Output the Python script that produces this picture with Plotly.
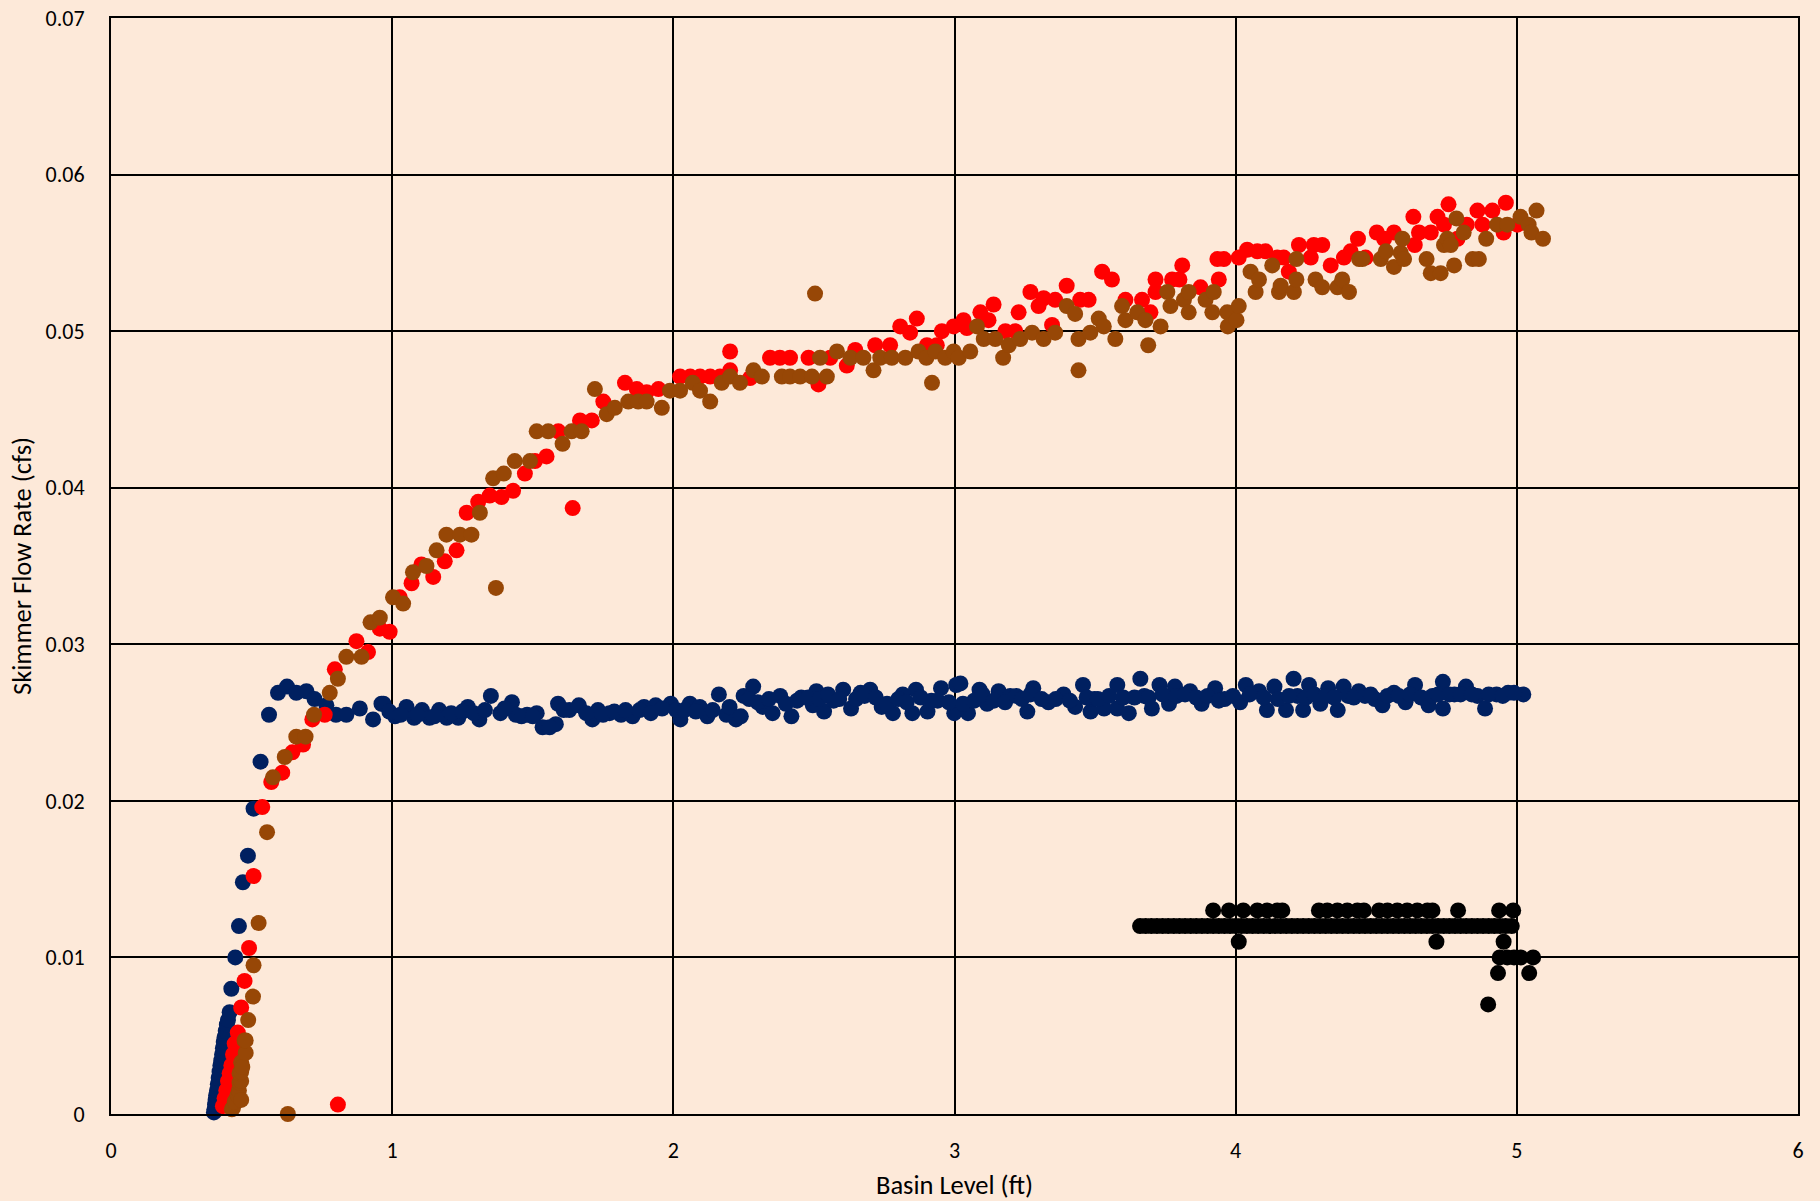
import plotly.graph_objects as go

# ---------------- data ----------------
navy_x = [0.366, 0.368, 0.370, 0.372, 0.374, 0.377, 0.380, 0.383, 0.386, 0.389, 0.392, 0.395,
          0.398, 0.401, 0.404, 0.408, 0.412, 0.416, 0.422, 0.428, 0.442, 0.455, 0.469, 0.487,
          0.507, 0.532, 0.562, 0.594, 0.626, 0.659, 0.695, 0.724, 0.766, 0.800, 0.837, 0.885,
          0.932, 0.962, 0.969, 1.010, 1.051, 1.078, 1.106, 1.133, 1.167, 1.194, 1.235, 1.269,
          1.310, 1.351, 1.385, 1.426, 1.440, 1.480, 1.514, 1.535, 1.582, 1.590, 1.630, 1.664,
          1.712, 1.732, 1.773, 1.814, 1.855, 1.896, 1.937, 1.991, 2.025, 2.059, 2.094, 2.121,
          2.162, 2.189, 2.223, 2.250, 2.284, 2.318, 2.353, 2.380, 2.420, 2.455, 2.496, 2.509,
          2.536, 2.570, 2.604, 2.632, 2.666, 2.700, 2.741, 2.781, 2.816, 2.850, 2.863, 2.904,
          2.918, 2.952, 2.999, 3.006, 3.021, 3.048, 3.089, 3.116, 3.157, 3.198, 3.259, 3.280,
          3.334, 3.388, 3.429, 3.457, 3.484, 3.497, 3.532, 3.579, 3.579, 3.620, 3.661, 3.675,
          3.702, 3.729, 3.763, 3.784, 3.838, 3.879, 3.927, 3.961, 4.016, 4.036, 4.083, 4.111,
          4.138, 4.179, 4.206, 4.220, 4.240, 4.261, 4.301, 4.329, 4.363, 4.384, 4.438, 4.495,
          4.522, 4.563, 4.604, 4.638, 4.686, 4.737, 4.737, 4.778, 4.819, 4.860, 4.887, 4.928,
          4.969, 5.023,
          0.990, 1.030, 1.090, 1.150, 1.210, 1.250, 1.290, 1.330, 1.400, 1.460, 1.500, 1.560,
          1.610, 1.690, 1.750, 1.790, 1.830, 1.880, 1.920, 1.960, 2.010, 2.040, 2.080, 2.140,
          2.200, 2.240, 2.270, 2.300, 2.340, 2.400, 2.440, 2.480, 2.520, 2.550, 2.590, 2.650,
          2.680, 2.720, 2.760, 2.800, 2.830, 2.880, 2.940, 2.980, 3.030, 3.070, 3.100, 3.140,
          3.180, 3.220, 3.240, 3.270, 3.310, 3.360, 3.410, 3.470, 3.510, 3.550, 3.600, 3.640,
          3.690, 3.740, 3.790, 3.820, 3.860, 3.900, 3.940, 3.990, 4.050, 4.100, 4.150, 4.190,
          4.250, 4.280, 4.320, 4.350, 4.400, 4.420, 4.460, 4.480, 4.540, 4.580, 4.620, 4.660,
          4.700, 4.720, 4.760, 4.800, 4.840, 4.900, 4.950, 4.990]
navy_y = [0.0001, 0.0003, 0.0006, 0.0009, 0.0012, 0.0015, 0.0019, 0.0023, 0.0027, 0.0031, 0.0034, 0.0038,
          0.0042, 0.0046, 0.0049, 0.0053, 0.0057, 0.0060, 0.0065, 0.0080, 0.0100, 0.0120, 0.0148, 0.0165,
          0.0195, 0.0225, 0.0255, 0.0269, 0.0273, 0.0269, 0.0270, 0.0265, 0.0261, 0.0255, 0.0255, 0.0259,
          0.0252, 0.0262, 0.0262, 0.0254, 0.0260, 0.0253, 0.0258, 0.0253, 0.0258, 0.0253, 0.0253, 0.0260,
          0.0252, 0.0267, 0.0256, 0.0263, 0.0255, 0.0255, 0.0256, 0.0247, 0.0249, 0.0262, 0.0258, 0.0261,
          0.0252, 0.0258, 0.0256, 0.0255, 0.0254, 0.0260, 0.0261, 0.0262, 0.0252, 0.0262, 0.0260, 0.0254,
          0.0268, 0.0255, 0.0252, 0.0267, 0.0273, 0.0260, 0.0256, 0.0267, 0.0254, 0.0266, 0.0261, 0.0270,
          0.0257, 0.0264, 0.0271, 0.0259, 0.0269, 0.0271, 0.0260, 0.0256, 0.0268, 0.0256, 0.0271, 0.0257,
          0.0264, 0.0272, 0.0256, 0.0274, 0.0275, 0.0256, 0.0271, 0.0262, 0.0270, 0.0267, 0.0257, 0.0272,
          0.0263, 0.0268, 0.0260, 0.0274, 0.0257, 0.0265, 0.0259, 0.0274, 0.0259, 0.0256, 0.0278, 0.0267,
          0.0259, 0.0274, 0.0262, 0.0273, 0.0270, 0.0262, 0.0272, 0.0265, 0.0263, 0.0274, 0.0270, 0.0258,
          0.0273, 0.0258, 0.0278, 0.0267, 0.0258, 0.0274, 0.0262, 0.0272, 0.0258, 0.0273, 0.0270, 0.0265,
          0.0261, 0.0269, 0.0263, 0.0274, 0.0261, 0.0276, 0.0259, 0.0268, 0.0273, 0.0267, 0.0259, 0.0268,
          0.0269, 0.0268,
          0.0257, 0.0255, 0.0255, 0.0254, 0.0256, 0.0257, 0.0256, 0.0258, 0.0259, 0.0254, 0.0254, 0.0247,
          0.0258, 0.0256, 0.0255, 0.0257, 0.0258, 0.0258, 0.0256, 0.0259, 0.0258, 0.0258, 0.0257, 0.0258,
          0.0260, 0.0254, 0.0265, 0.0263, 0.0265, 0.0262, 0.0264, 0.0266, 0.0265, 0.0268, 0.0265, 0.0265,
          0.0267, 0.0266, 0.0262, 0.0265, 0.0263, 0.0266, 0.0264, 0.0263, 0.0262, 0.0264, 0.0268, 0.0264,
          0.0263, 0.0267, 0.0265, 0.0268, 0.0265, 0.0265, 0.0264, 0.0266, 0.0265, 0.0267, 0.0266, 0.0266,
          0.0266, 0.0268, 0.0267, 0.0268, 0.0266, 0.0267, 0.0264, 0.0267, 0.0268, 0.0266, 0.0265, 0.0267,
          0.0266, 0.0268, 0.0267, 0.0266, 0.0267, 0.0266, 0.0267, 0.0268, 0.0267, 0.0267, 0.0268, 0.0266,
          0.0267, 0.0268, 0.0268, 0.0268, 0.0268, 0.0268, 0.0267, 0.0269]

red_x = [0.398, 0.404, 0.410, 0.416, 0.422, 0.428, 0.434, 0.440, 0.451, 0.463, 0.475, 0.491,
         0.507, 0.538, 0.570, 0.609, 0.645, 0.683, 0.716, 0.760, 0.796, 0.807, 0.873, 0.914,
         0.956, 0.991, 1.027, 1.069, 1.104, 1.146, 1.187, 1.229, 1.265, 1.306, 1.347, 1.389,
         1.430, 1.472, 1.508, 1.549, 1.591, 1.642, 1.668, 1.710, 1.751, 1.828, 1.870, 1.905,
         1.947, 2.024, 2.060, 2.095, 2.131, 2.166, 2.202, 2.202, 2.273, 2.344, 2.379, 2.415,
         2.481, 2.516, 2.558, 2.617, 2.647, 2.718, 2.771, 2.807, 2.842, 2.866, 2.902, 2.937,
         2.955, 2.997, 3.032, 3.044, 3.092, 3.121, 3.139, 3.181, 3.216, 3.228, 3.270, 3.299,
         3.317, 3.347, 3.358, 3.399, 3.447, 3.477, 3.525, 3.560, 3.608, 3.667, 3.697, 3.715,
         3.715, 3.774, 3.800, 3.810, 3.875, 3.935, 3.940, 3.958, 4.011, 4.041, 4.077, 4.106,
         4.148, 4.171, 4.189, 4.225, 4.267, 4.278, 4.308, 4.338, 4.385, 4.409, 4.435, 4.462,
         4.502, 4.528, 4.563, 4.632, 4.637, 4.652, 4.694, 4.718, 4.741, 4.757, 4.789, 4.822,
         4.860, 4.878, 4.913, 4.953, 4.961, 5.002]
red_y = [0.0005, 0.0010, 0.0015, 0.0021, 0.0026, 0.0031, 0.0038, 0.0045, 0.0052, 0.0068, 0.0085, 0.0106,
         0.0152, 0.0196, 0.0212, 0.0218, 0.0231, 0.0236, 0.0252, 0.0255, 0.0284, 0.0006, 0.0302, 0.0295,
         0.0310, 0.0308, 0.0330, 0.0339, 0.0351, 0.0343, 0.0353, 0.0360, 0.0384, 0.0391, 0.0395, 0.0394,
         0.0398, 0.0409, 0.0417, 0.0420, 0.0436, 0.0387, 0.0443, 0.0443, 0.0455, 0.0467, 0.0463, 0.0461,
         0.0463, 0.0471, 0.0471, 0.0471, 0.0471, 0.0471, 0.0487, 0.0475, 0.0470, 0.0483, 0.0483, 0.0483,
         0.0483, 0.0466, 0.0483, 0.0478, 0.0488, 0.0491, 0.0491, 0.0503, 0.0499, 0.0508, 0.0491, 0.0491,
         0.0500, 0.0503, 0.0507, 0.0502, 0.0512, 0.0507, 0.0517, 0.0500, 0.0500, 0.0512, 0.0525, 0.0516,
         0.0521, 0.0504, 0.0520, 0.0529, 0.0520, 0.0520, 0.0538, 0.0533, 0.0520, 0.0520, 0.0512, 0.0533,
         0.0525, 0.0533, 0.0533, 0.0542, 0.0528, 0.0546, 0.0533, 0.0546, 0.0547, 0.0552, 0.0551, 0.0551,
         0.0547, 0.0547, 0.0538, 0.0555, 0.0547, 0.0555, 0.0555, 0.0542, 0.0547, 0.0551, 0.0559, 0.0547,
         0.0563, 0.0559, 0.0563, 0.0573, 0.0555, 0.0563, 0.0563, 0.0573, 0.0568, 0.0581, 0.0559, 0.0568,
         0.0577, 0.0568, 0.0577, 0.0563, 0.0582, 0.0568]

brown_x = [0.430, 0.434, 0.440, 0.450, 0.455, 0.463, 0.457, 0.463, 0.457, 0.463, 0.463, 0.467,
           0.479, 0.475, 0.479, 0.488, 0.505, 0.507, 0.525, 0.555, 0.576, 0.618, 0.629, 0.659,
           0.692, 0.722, 0.778, 0.807, 0.837, 0.891, 0.923, 0.956, 1.003, 1.039, 1.074, 1.122,
           1.158, 1.193, 1.241, 1.282, 1.312, 1.359, 1.369, 1.397, 1.436, 1.490, 1.514, 1.555,
           1.606, 1.638, 1.674, 1.721, 1.763, 1.792, 1.840, 1.875, 1.905, 1.959, 1.988, 2.024,
           2.069, 2.095, 2.131, 2.172, 2.202, 2.237, 2.285, 2.315, 2.386, 2.415, 2.451, 2.493,
           2.504, 2.522, 2.546, 2.582, 2.630, 2.676, 2.712, 2.736, 2.777, 2.825, 2.872, 2.900,
           2.920, 2.932, 2.967, 2.997, 3.015, 3.056, 3.080, 3.104, 3.145, 3.173, 3.193, 3.234,
           3.276, 3.317, 3.358, 3.399, 3.429, 3.441, 3.441, 3.483, 3.513, 3.531, 3.572, 3.596,
           3.608, 3.650, 3.679, 3.689, 3.733, 3.757, 3.768, 3.816, 3.833, 3.833, 3.893, 3.917,
           3.922, 3.970, 3.972, 4.003, 4.011, 4.053, 4.071, 4.083, 4.130, 4.154, 4.160, 4.207,
           4.216, 4.216, 4.284, 4.308, 4.362, 4.379, 4.403, 4.439, 4.451, 4.516, 4.534, 4.563,
           4.587, 4.593, 4.599, 4.679, 4.694, 4.729, 4.741, 4.753, 4.765, 4.777, 4.785, 4.811,
           4.843, 4.865, 4.891, 4.930, 4.966, 5.013, 5.042, 5.052, 5.070, 5.093]
brown_y = [0.0003, 0.0004, 0.0008, 0.0012, 0.0015, 0.0009, 0.0020, 0.0021, 0.0026, 0.0027, 0.0033, 0.0030,
           0.0039, 0.0047, 0.0047, 0.0060, 0.0075, 0.0095, 0.0122, 0.0180, 0.0215, 0.0228, 0.0000, 0.0241,
           0.0241, 0.0255, 0.0269, 0.0278, 0.0292, 0.0292, 0.0314, 0.0317, 0.0330, 0.0326, 0.0346, 0.0350,
           0.0360, 0.0370, 0.0370, 0.0370, 0.0384, 0.0406, 0.0336, 0.0409, 0.0417, 0.0417, 0.0436, 0.0436,
           0.0428, 0.0436, 0.0436, 0.0463, 0.0447, 0.0451, 0.0455, 0.0455, 0.0455, 0.0451, 0.0462, 0.0462,
           0.0467, 0.0462, 0.0455, 0.0467, 0.0471, 0.0467, 0.0475, 0.0471, 0.0471, 0.0471, 0.0471, 0.0471,
           0.0524, 0.0483, 0.0471, 0.0487, 0.0483, 0.0483, 0.0475, 0.0483, 0.0483, 0.0483, 0.0487, 0.0483,
           0.0467, 0.0487, 0.0483, 0.0487, 0.0483, 0.0487, 0.0503, 0.0495, 0.0495, 0.0483, 0.0491, 0.0495,
           0.0499, 0.0495, 0.0499, 0.0516, 0.0511, 0.0475, 0.0495, 0.0499, 0.0508, 0.0503, 0.0495, 0.0516,
           0.0507, 0.0512, 0.0507, 0.0491, 0.0503, 0.0525, 0.0516, 0.0520, 0.0525, 0.0512, 0.0520, 0.0512,
           0.0525, 0.0512, 0.0503, 0.0507, 0.0516, 0.0538, 0.0525, 0.0533, 0.0542, 0.0525, 0.0529, 0.0525,
           0.0533, 0.0546, 0.0533, 0.0528, 0.0528, 0.0533, 0.0525, 0.0546, 0.0546, 0.0546, 0.0551, 0.0541,
           0.0550, 0.0559, 0.0546, 0.0546, 0.0537, 0.0537, 0.0555, 0.0559, 0.0555, 0.0542, 0.0572, 0.0563,
           0.0546, 0.0546, 0.0559, 0.0568, 0.0568, 0.0573, 0.0568, 0.0563, 0.0577, 0.0559]

black_x = [3.660, 3.680, 3.700, 3.720, 3.740, 3.760, 3.780, 3.800, 3.820, 3.840, 3.860, 3.880,
           3.900, 3.920, 3.940, 3.960, 3.980, 4.000, 4.020, 4.040, 4.060, 4.080, 4.100, 4.120,
           4.140, 4.160, 4.180, 4.200, 4.220, 4.240, 4.260, 4.280, 4.300, 4.320, 4.340, 4.360,
           4.380, 4.400, 4.420, 4.440, 4.460, 4.480, 4.500, 4.520, 4.540, 4.560, 4.580, 4.600,
           4.620, 4.640, 4.660, 4.680, 4.700, 4.720, 4.740, 4.760, 4.780, 4.800, 4.820, 4.840,
           4.860, 4.880, 4.900, 4.920, 4.940, 4.960, 4.982,
           3.920, 3.976, 4.027, 4.077, 4.112, 4.148, 4.166, 4.296, 4.326, 4.362, 4.397, 4.433,
           4.456, 4.510, 4.540, 4.575, 4.610, 4.646, 4.682, 4.700, 4.791, 4.937, 4.987,
           4.011, 4.714, 4.953,
           4.939, 4.966, 4.990, 5.014, 5.058,
           4.933, 5.044,
           4.898]
black_y = [0.012] * 67 + [0.013] * 23 + [0.011] * 3 + [0.010] * 5 + [0.009] * 2 + [0.007]

x_ticks = [0, 1, 2, 3, 4, 5, 6]
y_ticks = [0, 0.01, 0.02, 0.03, 0.04, 0.05, 0.06, 0.07]
y_tick_text = ["0", "0.01", "0.02", "0.03", "0.04", "0.05", "0.06", "0.07"]

# ---------------- figure ----------------
BG = "#FDE9D9"
FONT = "Calibri, Carlito, Lato, sans-serif"
MS = 16

fig = go.Figure()
for xs, ys, col, name in [
    (black_x, black_y, "#000000", "black"),
    (navy_x, navy_y, "#002060", "navy"),
    (red_x, red_y, "#FF0000", "red"),
    (brown_x, brown_y, "#974706", "brown"),
]:
    fig.add_trace(go.Scatter(x=xs, y=ys, mode="markers", name=name,
                             marker=dict(size=MS, color=col, line=dict(width=0)),
                             showlegend=False, cliponaxis=False))

axis_common = dict(showgrid=True, gridcolor="#000000", gridwidth=1.5,
                   showline=True, linecolor="#000000", linewidth=2, mirror=True,
                   zeroline=False, ticks="", tickfont=dict(family=FONT, size=22, color="#000000"),
                   automargin=False)

fig.update_layout(
    width=1820, height=1201,
    margin=dict(l=111, r=22, t=18, b=87),
    paper_bgcolor=BG, plot_bgcolor=BG,
    font=dict(family=FONT, color="#000000"),
    xaxis=dict(range=[0, 6], tickvals=x_ticks, ticktext=[str(v) for v in x_ticks],
               ticklabelstandoff=16,
               title=dict(text="Basin Level (ft)", font=dict(family=FONT, size=26.5, color="#000000"), standoff=12),
               **axis_common),
    yaxis=dict(range=[0, 0.07], tickvals=y_ticks, ticktext=y_tick_text,
               ticklabelstandoff=20,
               title=dict(text="Skimmer Flow Rate (cfs)", font=dict(family=FONT, size=26.5, color="#000000"), standoff=6),
               **axis_common),
)

fig.write_html("out.html")
